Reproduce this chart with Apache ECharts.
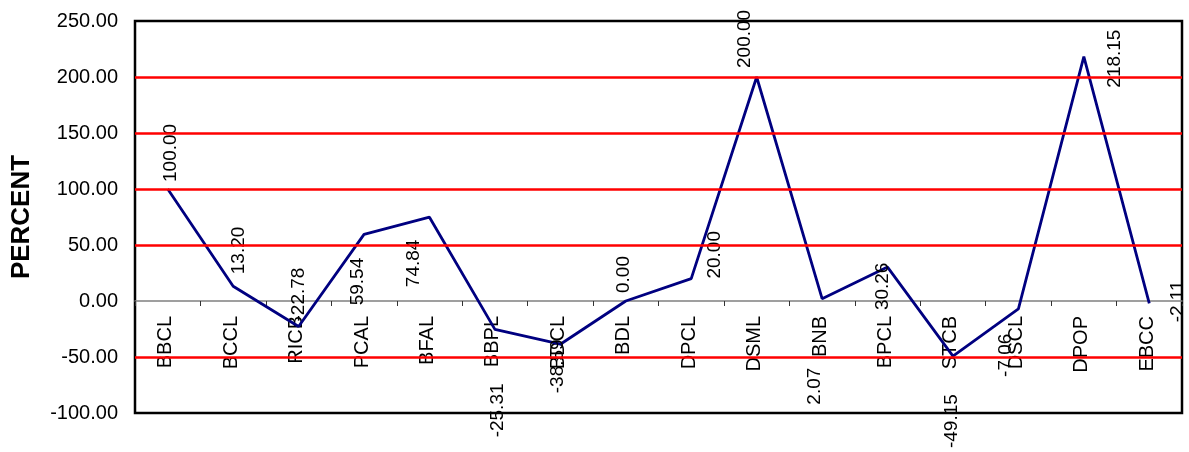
<!DOCTYPE html>
<html>
<head>
<meta charset="utf-8">
<script src="https://cdn.jsdelivr.net/npm/echarts@6/dist/echarts.min.js"></script>
<style>
  html, body { margin: 0; padding: 0; background: #fff; }
  #chart { width: 1189px; height: 452px; }
</style>
</head>
<body>
<div id="chart"></div>
<script>
// Company codes along the category axis
const categories = ['BBCL', 'BCCL', 'RICB', 'PCAL', 'BFAL', 'BBPL', 'BDCL', 'BDL',
  'DPCL', 'DSML', 'BNB', 'BPCL', 'STCB', 'DSCL', 'DPOP', 'EBCC'];

// Percentage change per company
const percentValues = [100.00, 13.20, -22.78, 59.54, 74.84, -25.31, -38.59, 0.00,
  20.00, 200.00, 2.07, 30.26, -49.15, -7.06, 218.15, -2.11];

// Value axis range and step
const yMin = -100;
const yMax = 250;
const yStep = 50;

// Screen nudges [dx, dy] for each rotated value label, relative to its point
const labelNudge = [
  [3, -7], [6, -12], [0, -5], [-6, 71], [-16, 70], [3, 108], [-3, 49], [-2, -8],
  [24, 0], [-12, -9], [-7, 106], [-5, 43], [-1, 92], [-13, 68], [31, 31], [28, 19]
];

// Red gridlines at every inner step except zero (zero carries the category axis line)
const gridValues = [];
for (let v = yMin + yStep; v < yMax; v += yStep) {
  if (v !== 0) gridValues.push(v);
}

const FONT = 'Liberation Sans, Arial, sans-serif';
const chart = echarts.init(document.getElementById('chart'), null, { renderer: 'canvas' });

chart.setOption({
  animation: false,
  backgroundColor: '#ffffff',
  grid: {
    left: 135, right: 7, top: 21, bottom: 39,
    containLabel: false,
    outerBoundsMode: 'none',
    show: true,
    borderColor: '#000000',
    borderWidth: 2.5,
    backgroundColor: 'transparent'
  },
  xAxis: {
    type: 'category',
    data: categories,
    boundaryGap: true,
    axisLine: { show: true, onZero: true, lineStyle: { color: '#808080', width: 1.5 } },
    axisTick: { show: true, length: 5, interval: 0, alignWithLabel: false, lineStyle: { color: '#333', width: 1 } },
    // Category names are drawn by the custom series below, hanging from the zero line
    axisLabel: { show: false },
    splitLine: { show: false }
  },
  yAxis: {
    type: 'value',
    min: yMin, max: yMax, interval: yStep,
    name: 'PERCENT',
    nameLocation: 'middle',
    nameRotate: 90,
    nameGap: 100,
    nameTextStyle: { fontSize: 26, fontWeight: 'bold', fontFamily: FONT, color: '#000' },
    axisLine: { show: false },
    axisTick: { show: false },
    axisLabel: {
      fontSize: 20, fontFamily: FONT, color: '#000', margin: 17,
      formatter: v => v.toFixed(2)
    },
    splitLine: { show: false }
  },
  series: [
    {
      // Category names, rotated, placed just below the zero line; also carries the gridlines
      type: 'custom',
      data: categories.map((c, i) => [i, 0]),
      clip: false,
      z: 1,
      silent: true,
      renderItem: function (params, api) {
        const i = api.value(0);
        const p = api.coord([i, 0]);
        return {
          type: 'text',
          x: p[0] - 2,
          y: p[1] + 15,
          rotation: Math.PI / 2,
          z2: 10,
          style: {
            text: categories[params.dataIndex],
            fontSize: 20,
            fontFamily: FONT,
            fill: '#000',
            align: 'right',
            verticalAlign: 'middle'
          }
        };
      },
      markLine: {
        silent: true,
        symbol: 'none',
        label: { show: false },
        lineStyle: { color: '#ff0000', width: 2.5, type: 'solid' },
        data: gridValues.map(v => ({ yAxis: v }))
      }
    },
    {
      type: 'line',
      data: percentValues,
      showSymbol: false,
      symbol: 'none',
      lineStyle: { color: '#000080', width: 2.8 },
      z: 3
    },
    {
      // Rotated value labels placed at each point through the axes' own scales
      type: 'custom',
      data: percentValues.map((v, i) => [i, v]),
      clip: false,
      z: 4,
      silent: true,
      renderItem: function (params, api) {
        const i = api.value(0);
        const v = api.value(1);
        const p = api.coord([i, v]);
        const n = labelNudge[params.dataIndex];
        return {
          type: 'text',
          x: p[0] + n[0],
          y: p[1] + n[1],
          rotation: Math.PI / 2,
          style: {
            text: v.toFixed(2),
            fontSize: 19,
            fontFamily: FONT,
            fill: '#000',
            align: 'left',
            verticalAlign: 'middle'
          }
        };
      }
    }
  ]
});
</script>
</body>
</html>
